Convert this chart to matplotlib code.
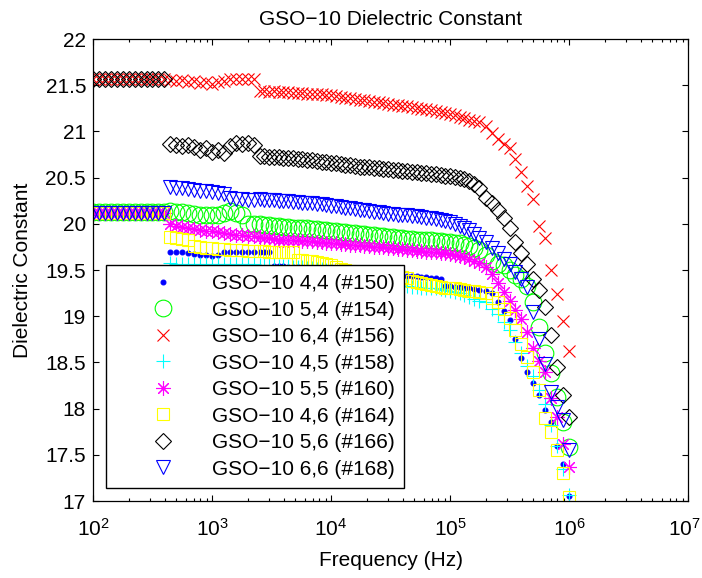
import matplotlib
matplotlib.use("Agg")
import matplotlib.pyplot as plt
from matplotlib.transforms import ScaledTranslation
from matplotlib.ticker import FixedLocator, FormatStrFormatter, LogLocator, NullFormatter

plt.rcParams["font.family"] = ["Liberation Sans", "DejaVu Sans"]
plt.rcParams["mathtext.fontset"] = "custom"
plt.rcParams["mathtext.rm"] = "Liberation Sans"

# sweep frequencies (Hz): three instrument ranges
freq_hz = [
    100, 112, 126, 141, 158, 178, 200, 224, 251, 282, 316, 355, 398,
    447, 501, 562, 631, 708, 794, 891, 1000, 1122, 1259, 1413, 1585, 1778, 1995, 2239,
    2512, 2754, 3020, 3311, 3631, 3981, 4365, 4786, 5248, 5754,
    6310, 6918, 7586, 8318, 9120, 10000, 10965, 12023, 13183, 14454,
    15849, 17378, 19055, 20893, 22909, 25119, 27542, 30200, 33113, 36308,
    39811, 43652, 47863, 52481, 57544, 63096, 69183, 75858, 83176, 91201,
    100000, 109648, 120226, 131826, 144544, 158489, 173780,
    199526, 223872, 251189, 281838, 316228, 354813, 398107, 446684, 501187, 562341,
    630957, 707946, 794328, 891251, 1000000,
]

eps_150 = [
    20.12, 20.12, 20.12, 20.12, 20.12, 20.12, 20.12, 20.12, 20.12, 20.12, 20.12, 20.12, 20.12,
    19.70, 19.70, 19.69, 19.68, 19.67, 19.66, 19.66, 19.65, 19.66, 19.69, 19.70, 19.70, 19.70, 19.70, 19.70,
    19.70, 19.70, 19.70, 19.54, 19.54, 19.54, 19.53, 19.53, 19.53, 19.52,
    19.52, 19.51, 19.51, 19.50, 19.50, 19.50, 19.49, 19.49, 19.48, 19.48,
    19.48, 19.47, 19.47, 19.46, 19.46, 19.46, 19.45, 19.45, 19.45, 19.44,
    19.44, 19.44, 19.43, 19.43, 19.42, 19.42, 19.41, 19.41, 19.40, 19.33,
    19.33, 19.32, 19.32, 19.31, 19.30, 19.29, 19.28,
    19.27, 19.25, 19.15, 19.06, 18.96, 18.75, 18.55, 18.40, 18.28, 18.15,
    17.98, 17.85, 17.60, 17.40, 17.05,
]
eps_154 = [
    20.13, 20.13, 20.13, 20.13, 20.13, 20.13, 20.13, 20.13, 20.13, 20.13, 20.13, 20.13, 20.13,
    20.14, 20.13, 20.13, 20.12, 20.11, 20.10, 20.09, 20.09, 20.10, 20.12, 20.14, 20.12, 20.10, 20.00, 20.00,
    20.00, 19.99, 19.99, 19.98, 19.98, 19.97, 19.97, 19.96, 19.96, 19.95,
    19.95, 19.94, 19.94, 19.93, 19.93, 19.92, 19.92, 19.91, 19.91, 19.90,
    19.90, 19.89, 19.89, 19.88, 19.88, 19.87, 19.87, 19.86, 19.86, 19.85,
    19.85, 19.84, 19.84, 19.83, 19.83, 19.82, 19.82, 19.81, 19.81, 19.80,
    19.80, 19.79, 19.79, 19.77, 19.76, 19.74, 19.72,
    19.66, 19.60, 19.57, 19.55, 19.50, 19.45, 19.40, 19.33, 19.15, 18.88,
    18.60, 18.38, 18.13, 17.85, 17.58,
]
eps_156 = [
    21.57, 21.57, 21.57, 21.57, 21.57, 21.57, 21.57, 21.57, 21.57, 21.57, 21.57, 21.57, 21.57,
    21.56, 21.55, 21.56, 21.54, 21.55, 21.52, 21.53, 21.51, 21.53, 21.55, 21.57, 21.57, 21.57, 21.57, 21.57,
    21.44, 21.44, 21.43, 21.44, 21.43, 21.43, 21.43, 21.42, 21.42, 21.42,
    21.41, 21.41, 21.40, 21.40, 21.39, 21.39, 21.38, 21.37, 21.36, 21.36,
    21.35, 21.34, 21.34, 21.33, 21.32, 21.32, 21.31, 21.30, 21.29, 21.29,
    21.28, 21.27, 21.26, 21.25, 21.24, 21.24, 21.23, 21.22, 21.21, 21.20,
    21.19, 21.18, 21.16, 21.14, 21.12, 21.11, 21.10,
    21.06, 20.98, 20.92, 20.86, 20.82, 20.70, 20.56, 20.41, 20.27, 19.98,
    19.85, 19.50, 19.24, 18.95, 18.62,
]
eps_158 = [
    20.12, 20.12, 20.12, 20.12, 20.12, 20.12, 20.12, 20.12, 20.12, 20.12, 20.12, 20.12, 20.12,
    19.58, 19.57, 19.57, 19.56, 19.56, 19.56, 19.57, 19.57, 19.57, 19.57, 19.56, 19.56, 19.56, 19.56, 19.56,
    19.55, 19.55, 19.55, 19.55, 19.54, 19.54, 19.54, 19.53, 19.53, 19.53,
    19.52, 19.52, 19.51, 19.51, 19.50, 19.49, 19.48, 19.47, 19.46, 19.44,
    19.42, 19.40, 19.39, 19.38, 19.37, 19.36, 19.35, 19.35, 19.34, 19.34,
    19.33, 19.33, 19.32, 19.32, 19.31, 19.31, 19.30, 19.30, 19.29, 19.28,
    19.27, 19.26, 19.25, 19.23, 19.21, 19.19, 19.17,
    19.15, 19.08, 19.02, 18.94, 18.85, 18.72, 18.60, 18.46, 18.35, 18.20,
    18.05, 17.82, 17.60, 17.35, 17.06,
]
eps_160 = [
    20.12, 20.12, 20.12, 20.12, 20.12, 20.12, 20.12, 20.12, 20.12, 20.12, 20.12, 20.12, 20.12,
    20.00, 19.98, 19.97, 19.95, 19.94, 19.93, 19.92, 19.92, 19.91, 19.90, 19.89, 19.88, 19.88, 19.87, 19.87,
    19.86, 19.85, 19.85, 19.84, 19.83, 19.83, 19.83, 19.82, 19.82, 19.81,
    19.81, 19.81, 19.80, 19.80, 19.79, 19.79, 19.79, 19.78, 19.78, 19.77,
    19.77, 19.77, 19.76, 19.76, 19.75, 19.75, 19.75, 19.74, 19.74, 19.73,
    19.73, 19.72, 19.72, 19.71, 19.71, 19.70, 19.70, 19.69, 19.68, 19.68,
    19.67, 19.66, 19.65, 19.64, 19.62, 19.60, 19.58,
    19.53, 19.46, 19.36, 19.26, 19.16, 19.07, 18.97, 18.83, 18.66, 18.52,
    18.40, 18.12, 17.91, 17.62, 17.37,
]
eps_164 = [
    20.12, 20.12, 20.12, 20.12, 20.12, 20.12, 20.12, 20.12, 20.12, 20.12, 20.12, 20.12, 20.12,
    19.86, 19.85, 19.84, 19.83, 19.76, 19.75, 19.74, 19.74, 19.73, 19.73, 19.72, 19.72, 19.72, 19.71, 19.71,
    19.71, 19.71, 19.70, 19.70, 19.70, 19.70, 19.69, 19.69, 19.61, 19.61,
    19.60, 19.60, 19.59, 19.58, 19.57, 19.55, 19.53, 19.51, 19.50, 19.49,
    19.48, 19.47, 19.46, 19.46, 19.45, 19.44, 19.44, 19.43, 19.43, 19.42,
    19.42, 19.41, 19.38, 19.37, 19.36, 19.35, 19.34, 19.33, 19.32, 19.31,
    19.30, 19.30, 19.29, 19.28, 19.27, 19.27, 19.26,
    19.25, 19.20, 19.15, 19.08, 18.98, 18.85, 18.70, 18.56, 18.40, 18.20,
    17.90, 17.75, 17.55, 17.30, 17.04,
]
eps_166 = [
    21.57, 21.57, 21.57, 21.57, 21.57, 21.57, 21.57, 21.57, 21.57, 21.57, 21.57, 21.57, 21.57,
    20.86, 20.85, 20.84, 20.85, 20.83, 20.80, 20.82, 20.78, 20.80, 20.77, 20.84, 20.87, 20.86, 20.87, 20.85,
    20.73, 20.73, 20.72, 20.72, 20.72, 20.71, 20.71, 20.71, 20.70, 20.70,
    20.69, 20.69, 20.68, 20.67, 20.67, 20.66, 20.66, 20.65, 20.64, 20.64,
    20.63, 20.62, 20.62, 20.61, 20.60, 20.60, 20.59, 20.59, 20.58, 20.58,
    20.57, 20.57, 20.56, 20.56, 20.55, 20.55, 20.54, 20.54, 20.53, 20.52,
    20.52, 20.51, 20.50, 20.48, 20.46, 20.43, 20.39,
    20.28, 20.22, 20.15, 20.06, 19.95, 19.80, 19.68, 19.56, 19.40, 19.28,
    19.10, 18.80, 18.45, 18.15, 17.91,
]
eps_168 = [
    20.12, 20.12, 20.12, 20.12, 20.12, 20.12, 20.12, 20.12, 20.12, 20.12, 20.12, 20.12, 20.12,
    20.40, 20.39, 20.39, 20.38, 20.37, 20.36, 20.35, 20.34, 20.33, 20.32, 20.28, 20.27, 20.27, 20.26, 20.26,
    20.27, 20.26, 20.26, 20.26, 20.25, 20.25, 20.25, 20.24, 20.24, 20.23,
    20.22, 20.22, 20.21, 20.21, 20.20, 20.19, 20.19, 20.18, 20.17, 20.17,
    20.16, 20.15, 20.15, 20.14, 20.13, 20.13, 20.12, 20.11, 20.11, 20.10,
    20.10, 20.09, 20.08, 20.08, 20.07, 20.06, 20.06, 20.05, 20.04, 20.03,
    20.02, 20.00, 19.98, 19.96, 19.93, 19.89, 19.85,
    19.80, 19.74, 19.68, 19.62, 19.56, 19.48, 19.40, 19.32, 19.05, 18.75,
    18.48, 18.18, 18.02, 17.88, 17.55,
]

labels = [
    "GSO\u221210 4,4 (#150)", "GSO\u221210 5,4 (#154)", "GSO\u221210 6,4 (#156)",
    "GSO\u221210 4,5 (#158)", "GSO\u221210 5,5 (#160)", "GSO\u221210 4,6 (#164)",
    "GSO\u221210 5,6 (#166)", "GSO\u221210 6,6 (#168)",
]
series = [eps_150, eps_154, eps_156, eps_158, eps_160, eps_164, eps_166, eps_168]

# MATLAB-like marker styles: (marker, colour, size)
styles = [
    (".", "#0000ff", 7),
    ("o", "#00ff00", 12),
    ("x", "#ff0000", 8),
    ("+", "#00ffff", 10.5),
    ((8, 2, 0), "#ff00ff", 10.5),
    ("s", "#ffff00", 9),
    ("D", "#000000", 8),
    ("v", "#0000ff", 10.5),
]

FS = 15

fig = plt.figure(figsize=(7.02, 5.78), dpi=100)
ax = fig.add_axes([0.1325, 0.1332, 0.8476, 0.7993])

for vals, lab, (mk, col, ms) in zip(series, labels, styles):
    assert len(vals) == len(freq_hz)
    ax.plot(freq_hz, vals, ls="none", marker=mk, ms=ms, mec=col, mfc="none" if mk != "." else col,
            mew=0.8, color=col, label=lab)

ax.set_xscale("log")
ax.set_xlim(1e2, 1e7)
ax.set_ylim(17, 22)
ax.yaxis.set_major_locator(FixedLocator([17, 17.5, 18, 18.5, 19, 19.5, 20, 20.5, 21, 21.5, 22]))
ax.yaxis.set_major_formatter(FormatStrFormatter("%g"))
ax.xaxis.set_major_locator(FixedLocator([1e2, 1e3, 1e4, 1e5, 1e6, 1e7]))
ax.xaxis.set_minor_locator(LogLocator(base=10, subs=range(2, 10), numticks=10))
ax.xaxis.set_minor_formatter(NullFormatter())

ax.tick_params(which="both", direction="in", top=True, right=True, labelsize=FS, width=0.8)
ax.tick_params(axis="y", which="major", length=4, pad=5)
ax.tick_params(axis="x", which="major", length=4, pad=12)
ax.tick_params(which="minor", length=2.2)
for s in ax.spines.values():
    s.set_linewidth(0.9)

ax.set_title("GSO\u221210 Dielectric Constant", fontsize=FS, pad=10)
ax.set_xlabel("Frequency (Hz)", fontsize=FS, labelpad=8)
ax.set_ylabel("Dielectric Constant", fontsize=FS, labelpad=10)

leg = ax.legend(loc="lower left", bbox_to_anchor=(0.0218, 0.028), fontsize=FS,
                frameon=True, fancybox=False, edgecolor="black", framealpha=1,
                borderpad=0.45, labelspacing=0.36, handlelength=4.6, handletextpad=0.05,
                numpoints=1, borderaxespad=0)
leg.get_frame().set_linewidth(1.0)

# keep the rightmost decade label inside the canvas
fig.canvas.draw()
last = ax.get_xticklabels()[-1]
last.set_transform(last.get_transform() + ScaledTranslation(-4 / 100, 0, fig.dpi_scale_trans))

fig.savefig("out.png", dpi=100)
